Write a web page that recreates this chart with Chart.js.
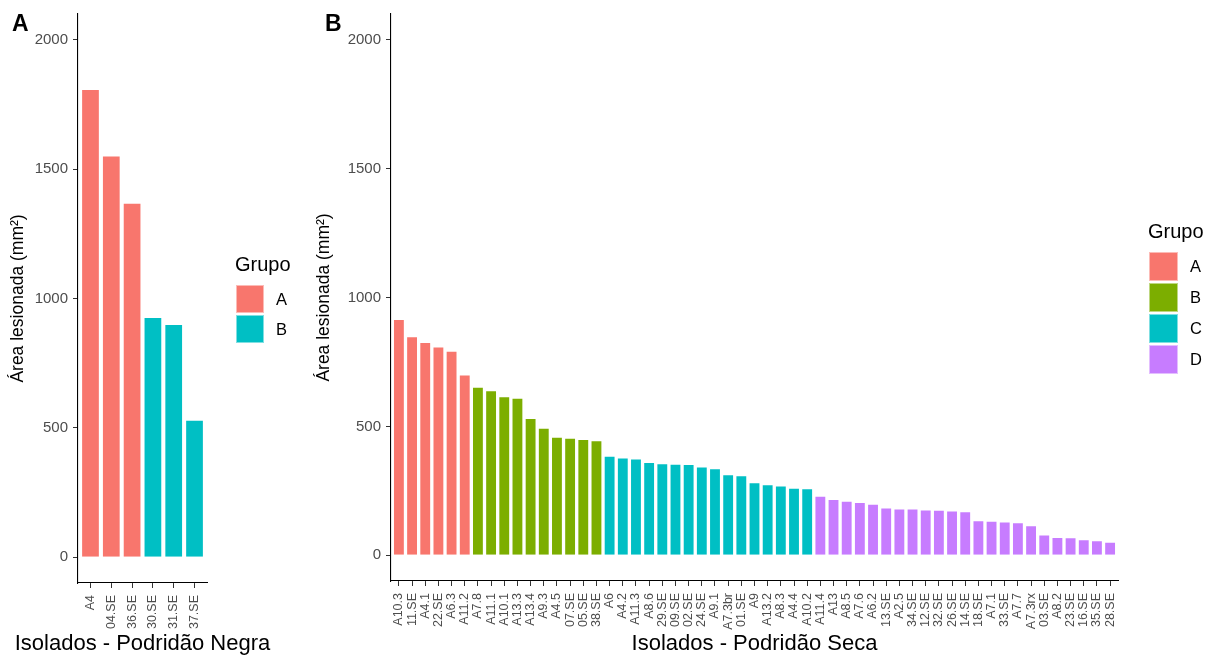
<!DOCTYPE html>
<html lang="pt">
<head>
<meta charset="utf-8">
<title>Área lesionada por isolado</title>
<script src="https://cdn.jsdelivr.net/npm/chart.js@4.4.1/dist/chart.umd.min.js"></script>
<style>
  html, body { margin: 0; padding: 0; background: #fff; }
  body { width: 1219px; height: 657px; position: relative; overflow: hidden; }
  canvas { position: absolute; top: 0; }
  #painelA { left: 0; }
  #painelB { left: 306px; }
</style>
</head>
<body>
<canvas id="painelA" width="300" height="657"></canvas>
<canvas id="painelB" width="913" height="657"></canvas>
<script>
// dados - podridão negra
const isoladosNegra = ['A4', '04.SE', '36.SE', '30.SE', '31.SE', '37.SE'];
const areaNegra = [1810, 1553, 1370, 928, 901, 531];
const grupoNegra = ['A', 'A', 'A', 'B', 'B', 'B'];
const gruposNegra = ['A', 'B'];
const coresNegra = ['#F8766D', '#00BFC4'];

// dados - podridão seca
const isoladosSeca = [
  'A10.3', '11.SE', 'A4.1', '22.SE', 'A6.3', 'A11.2',
  'A7.8', 'A11.1', 'A10.1', 'A13.3', 'A13.4', 'A9.3', 'A4.5', '07.SE', '05.SE', '38.SE',
  'A6', 'A4.2', 'A11.3', 'A8.6', '29.SE', '09.SE', '02.SE', '24.SE', 'A9.1', 'A7.3br',
  '01.SE', 'A9', 'A13.2', 'A8.3', 'A4.4', 'A10.2',
  'A11.4', 'A13', 'A8.5', 'A7.6', 'A6.2', '13.SE', 'A2.5', '34.SE', '12.SE', '32.SE',
  '26.SE', '14.SE', '18.SE', 'A7.1', '33.SE', 'A7.7', 'A7.3rx', '03.SE', 'A8.2', '23.SE',
  '16.SE', '35.SE', '28.SE'
];
const areaSeca = [
  917, 850, 827, 810, 793, 701,
  654, 640, 617, 611, 532, 495, 460, 456, 451, 446,
  386, 379, 375, 362, 357, 355, 354, 344, 337, 314, 310, 283, 275, 271, 262, 260,
  231, 218, 211, 207, 200, 185, 181, 181, 177, 176, 174, 171, 136, 134, 131, 128,
  116, 80, 71, 70, 62, 58, 52
];
const grupoSeca = [
  'A', 'A', 'A', 'A', 'A', 'A',
  'B', 'B', 'B', 'B', 'B', 'B', 'B', 'B', 'B', 'B',
  'C', 'C', 'C', 'C', 'C', 'C', 'C', 'C', 'C', 'C', 'C', 'C', 'C', 'C', 'C', 'C',
  'D', 'D', 'D', 'D', 'D', 'D', 'D', 'D', 'D', 'D', 'D', 'D', 'D', 'D', 'D', 'D',
  'D', 'D', 'D', 'D', 'D', 'D', 'D'
];
const gruposSeca = ['A', 'B', 'C', 'D'];
const coresSeca = ['#F8766D', '#7CAE00', '#00BFC4', '#C77CFF'];

const yTicks = [0, 500, 1000, 1500, 2000];

const FONTE = "'Liberation Sans', Arial, sans-serif";
Chart.defaults.font.family = FONTE;

// legenda no estilo ggplot, título do eixo x e letra do painel
const ggLegend = {
  id: 'ggLegend',
  afterDraw(chart, args, opts) {
    const { ctx, chartArea, height } = chart;
    const sets = chart.data.datasets;
    const cy = (chartArea.top + chartArea.bottom) / 2;
    const keysTop = cy - sets.length * opts.step / 2 + 16;
    const x0 = chartArea.right + opts.dx;
    ctx.save();
    ctx.fillStyle = '#000';
    ctx.textAlign = 'left';
    ctx.textBaseline = 'alphabetic';
    ctx.font = '20px ' + FONTE;
    ctx.fillText('Grupo', x0 - 1, keysTop - 14);
    ctx.font = '16.5px ' + FONTE;
    ctx.textBaseline = 'middle';
    sets.forEach((ds, k) => {
      const y = Math.round(keysTop + k * opts.step);
      ctx.fillStyle = ds.backgroundColor;
      ctx.fillRect(x0, y, opts.key, opts.key);
      ctx.strokeStyle = 'rgba(255,255,255,0.5)';
      ctx.lineWidth = 1;
      ctx.strokeRect(x0 + 0.5, y + 0.5, opts.key - 1, opts.key - 1);
      ctx.fillStyle = '#000';
      ctx.fillText(ds.label, x0 + opts.key + 12, y + opts.key / 2 + 1);
    });
    // título do eixo x, centrado no painel (pode passar da largura do eixo)
    ctx.font = '22px ' + FONTE;
    ctx.textAlign = 'center';
    ctx.fillText(opts.xTitle, (chartArea.left + chartArea.right) / 2, height - 13);
    ctx.font = 'bold 23px ' + FONTE;
    ctx.textAlign = 'left';
    ctx.textBaseline = 'alphabetic';
    ctx.fillText(opts.letter, opts.letterX, 31);
    ctx.restore();
  }
};

function makeDatasets(area, grupo, grupos, cores) {
  return grupos.map((g, k) => ({
    label: g,
    data: area.map((v, i) => ({ x: i, y: v })).filter((p, i) => grupo[i] === g),
    backgroundColor: cores[k],
    borderColor: 'rgba(255,255,255,0.45)',
    borderWidth: 1,
    grouped: false
  }));
}

function painel(id, cfg) {
  const n = cfg.isolados.length;
  const axisGrid = { display: true, drawOnChartArea: false, offset: false, tickLength: 5, tickColor: '#333', tickWidth: 1 };
  const axisBorder = { display: true, color: '#000', width: 1.1 };
  return new Chart(document.getElementById(id), {
    type: 'bar',
    data: { datasets: makeDatasets(cfg.area, cfg.grupo, cfg.grupos, cfg.cores) },
    plugins: [ggLegend],
    options: {
      responsive: false,
      animation: false,
      devicePixelRatio: 1,
      datasets: { bar: { categoryPercentage: 1, barPercentage: 0.9 } },
      layout: { padding: { top: 13, right: cfg.padRight, left: 0, bottom: 0 } },
      plugins: {
        legend: { display: false },
        tooltip: { enabled: false },
        ggLegend: cfg.legend
      },
      scales: {
        x: {
          type: 'linear',
          offset: false,
          min: -0.6,
          max: n - 0.4,
          afterBuildTicks: s => { s.ticks = cfg.isolados.map((_, i) => ({ value: i })); },
          afterFit: s => { s.height = cfg.xHeight; },
          grid: axisGrid,
          border: axisBorder,
          ticks: {
            autoSkip: false, minRotation: 90, maxRotation: 90, padding: 7,
            color: '#4D4D4D', font: { size: 12.5 },
            callback: v => cfg.isolados[v]
          },
          title: { display: false }
        },
        y: {
          min: -100,
          max: 2100,
          afterBuildTicks: s => { s.ticks = yTicks.map(v => ({ value: v })); },
          afterFit: s => { s.width = cfg.yWidth; },
          grid: axisGrid,
          border: axisBorder,
          ticks: { padding: 5, color: '#4D4D4D', font: { size: 15 }, callback: v => String(v) },
          title: { display: true, text: 'Área lesionada (mm²)', color: '#000', font: { size: 17.5 }, padding: { top: 8, bottom: 0 } }
        }
      }
    }
  });
}

painel('painelA', {
  isolados: isoladosNegra, area: areaNegra, grupo: grupoNegra, grupos: gruposNegra, cores: coresNegra,
  yWidth: 78, xHeight: 74, padRight: 93,
  legend: { step: 30, key: 28, dx: 29, letter: 'A', letterX: 12, xTitle: 'Isolados - Podridão Negra' }
});

painel('painelB', {
  isolados: isoladosSeca, area: areaSeca, grupo: grupoSeca, grupos: gruposSeca, cores: coresSeca,
  yWidth: 85, xHeight: 76, padRight: 101,
  legend: { step: 31, key: 29, dx: 31, letter: 'B', letterX: 19, xTitle: 'Isolados - Podridão Seca' }
});
</script>
</body>
</html>
